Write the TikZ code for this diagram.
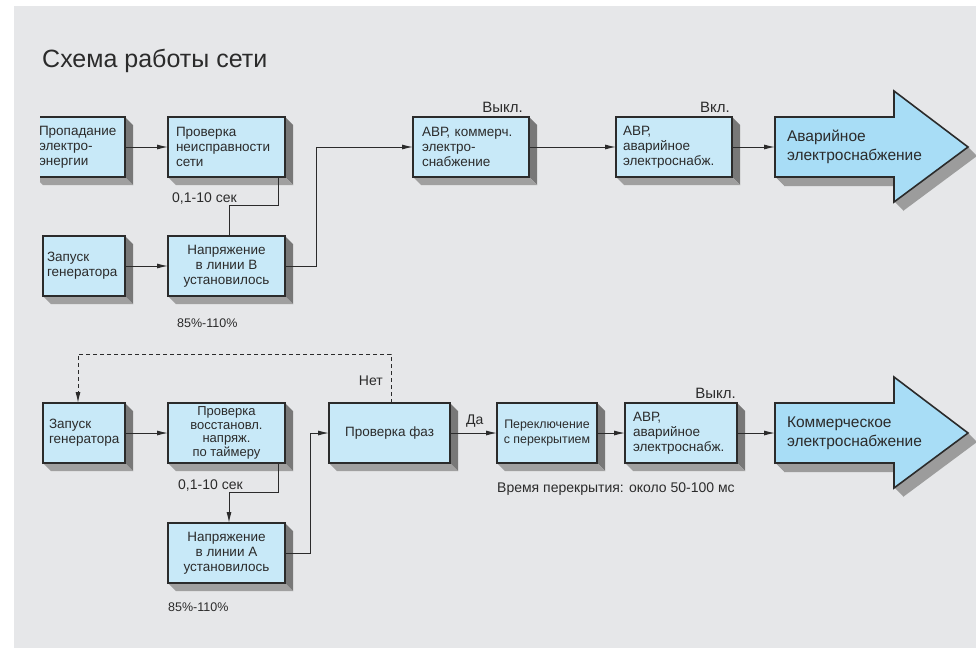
\documentclass[tikz,border=0pt]{standalone}
\usepackage{fontspec}
\setmainfont{Liberation Sans}
\usetikzlibrary{arrows.meta,calc}

\definecolor{panel}{HTML}{E6E7E9}
\definecolor{boxfill}{HTML}{C8E9F8}
\definecolor{arrowfill}{HTML}{A8DDF6}
\definecolor{ink}{HTML}{2B2B2B}
\definecolor{sideR}{HTML}{787878}
\definecolor{sideB}{HTML}{A0A0A0}
\definecolor{arrowshade}{HTML}{9C9C9C}

\pgfdeclarelayer{panel}
\pgfdeclarelayer{shade}
\pgfsetlayers{panel,shade,main}

\newcommand\boxfont{\fontsize{13.5}{15}\selectfont}
\newcommand\tightfont{\fontsize{13}{13.6}\selectfont}
\newcommand\narrowfont{\fontsize{12.4}{14.5}\selectfont}
\newcommand\lblfont{\fontsize{14}{16}\selectfont}
\newcommand\smallfont{\fontsize{12.5}{14}\selectfont}
\newcommand\statefont{\fontsize{15}{17}\selectfont}
\newcommand\bigfont{\fontsize{15.5}{19}\selectfont}
\newcommand\titlefont{\fontsize{25}{28}\selectfont}

% 3D side faces of a box, drawn beneath it; optional argument: left clip edge
\newcommand\extrude[2][-100]{%
  \begin{pgfonlayer}{shade}
    \begin{scope}
      \clip (#1,0) rectangle (980,650);
      \fill[sideR] (#2.north east) -- ($(#2.north east)+(8,8)$)
        -- ($(#2.south east)+(8,8)$) -- (#2.south east) -- cycle;
      \fill[sideB] (#2.south west) -- (#2.south east)
        -- ($(#2.south east)+(8,8)$) -- ($(#2.south west)+(8,8)$) -- cycle;
    \end{scope}
  \end{pgfonlayer}}

\begin{document}
\begin{tikzpicture}[
  x=1pt, y=-1pt,
  box/.style={draw=ink, line width=1.6pt, fill=boxfill, text=ink,
    font=\boxfont, minimum height=60pt, inner ysep=0pt, outer sep=0pt},
  lbox/.style 2 args={box, align=left, text width=#1, inner xsep=#2},
  cbox/.style={box, align=center, inner xsep=2pt},
  link/.style={draw=ink, line width=1pt, -{Latex[length=11pt,width=5pt]}},
  wire/.style={draw=ink, line width=1pt},
  lbl/.style={text=ink, font=\lblfont, inner sep=0pt},
  bigshape/.style 2 args={insert path={
    (#1,#2-30) -- (#1+119,#2-30) -- (#1+119,#2-56) -- (#1+193,#2)
    -- (#1+119,#2+55) -- (#1+119,#2+30) -- (#1,#2+30) -- cycle}},
  bigtext/.style={anchor=west, text=ink, font=\bigfont, align=left,
    minimum height=60pt, inner ysep=0pt, inner xsep=12pt, text width=169pt,
    outer sep=0pt},
]
\useasboundingbox (0,0) rectangle (976,648);

\begin{pgfonlayer}{panel}
  \fill[panel] (14,6) rectangle (976,648);
\end{pgfonlayer}

\node[anchor=base west, text=ink, font=\titlefont, inner sep=0pt] (title)
  at (42,67) {Схема работы сети};

% ---------- switching to the emergency supply ----------
\begin{scope}
  \clip (40,0) rectangle (980,650);
  \node[lbox={82pt}{4pt}, minimum width=90pt] (b1) at (80,147)
    {Пропадание\\электро-\\энергии};
\end{scope}
\extrude[40]{b1}

\node[lbox={101pt}{8pt}, minimum width=117pt] (b2) at (226.5,147)
  {Проверка\\неисправности\\сети};
\extrude{b2}

\node[lbox={74pt}{4pt}, minimum width=82pt] (b3) at (84,266)
  {Запуск\\генератора};
\extrude{b3}

\node[cbox, minimum width=117pt] (b4) at (226.5,266)
  {Напряжение\\в линии В\\установилось};
\extrude{b4}

\node[lbox={98pt}{9pt}, minimum width=116pt] (b5) at (471,147)
  {АВР, коммерч.\\электро-\\снабжение};
\extrude{b5}

\node[lbox={102pt}{7pt}, minimum width=116pt] (b6) at (674,147)
  {АВР,\\аварийное\\электроснабж.};
\extrude{b6}

\begin{pgfonlayer}{shade}
  \foreach \d in {1,...,9}
    \fill[arrowshade, shift={(\d,\d)}, bigshape={775}{147}];
\end{pgfonlayer}
\filldraw[fill=arrowfill, draw=ink, line width=1.6pt, line join=miter,
  bigshape={775}{147}];
\node[bigtext] (ar1) at (775,147) {Аварийное\\электроснабжение};

\node[lbl, anchor=base west] (t1) at (172,202) {0,1-10 сек};
\node[lbl, anchor=base west, font=\smallfont] (p1) at (177,327) {85\%-110\%};
\node[lbl, anchor=base east, font=\statefont] (s1) at (523,112) {Выкл.};
\node[lbl, anchor=base east, font=\statefont] (s2) at (730,112) {Вкл.};

\draw[link] (b1.east) -- (b2.west);
\draw[link] (b3.east) -- (b4.west);
\draw[wire] ($(b2.south east)+(-7,0)$) -- ++(0,28) -| ($(b4.north)+(2.5,0)$);
\draw[link] (b4.east) -- ++(31,0) |- (b5.west);
\draw[link] (b5.east) -- (b6.west);
\draw[link] (b6.east) -- (ar1.west);

% ---------- return to the commercial supply ----------
\node[lbox={70pt}{6pt}, minimum width=82pt] (b7) at (84,433)
  {Запуск\\генератора};
\extrude{b7}

\node[cbox, font=\tightfont, minimum width=117pt] (b8) at (226.5,433)
  {Проверка\\восстановл.\\напряж.\\по таймеру};
\extrude{b8}

\node[cbox, minimum width=117pt] (b9) at (226.5,553)
  {Напряжение\\в линии А\\установилось};
\extrude{b9}

\node[cbox, minimum width=121pt] (b10) at (389.5,433) {Проверка фаз};
\extrude{b10}

\node[cbox, font=\narrowfont, minimum width=100pt] (b11) at (547,433)
  {Переключение\\с перекрытием};
\extrude{b11}

\node[lbox={96pt}{8pt}, minimum width=112pt] (b12) at (681,433)
  {АВР,\\аварийное\\электроснабж.};
\extrude{b12}

\begin{pgfonlayer}{shade}
  \foreach \d in {1,...,9}
    \fill[arrowshade, shift={(\d,\d)}, bigshape={775}{433}];
\end{pgfonlayer}
\filldraw[fill=arrowfill, draw=ink, line width=1.6pt, line join=miter,
  bigshape={775}{433}];
\node[bigtext] (ar2) at (775,433) {Коммерческое\\электроснабжение};

\node[lbl, anchor=base east] (no) at (383,385) {Нет};
\node[lbl, anchor=base west] (yes) at (466,424) {Да};
\node[lbl, anchor=base west] (t2) at (178,489) {0,1-10 сек};
\node[lbl, anchor=base west, font=\smallfont] (p2) at (168,611) {85\%-110\%};
\node[lbl, anchor=base west] (ov) at (497,492) {Время перекрытия: около 50-100 мс};
\node[lbl, anchor=base east, font=\statefont] (s3) at (736,398) {Выкл.};

\draw[link, dash pattern=on 4pt off 3pt] ($(b10.north)+(1.5,0)$) -- ++(0,-49)
  -| ($(b7.north)+(-6,0)$);
\draw[link] (b7.east) -- (b8.west);
\draw[link] ($(b8.south east)+(-7,0)$) -- ++(0,29) -| ($(b9.north)+(2.5,0)$);
\draw[link] (b9.east) -- ++(25,0) |- (b10.west);
\draw[link] (b10.east) -- (b11.west);
\draw[link] (b11.east) -- (b12.west);
\draw[link] (b12.east) -- (ar2.west);
\end{tikzpicture}
\end{document}
